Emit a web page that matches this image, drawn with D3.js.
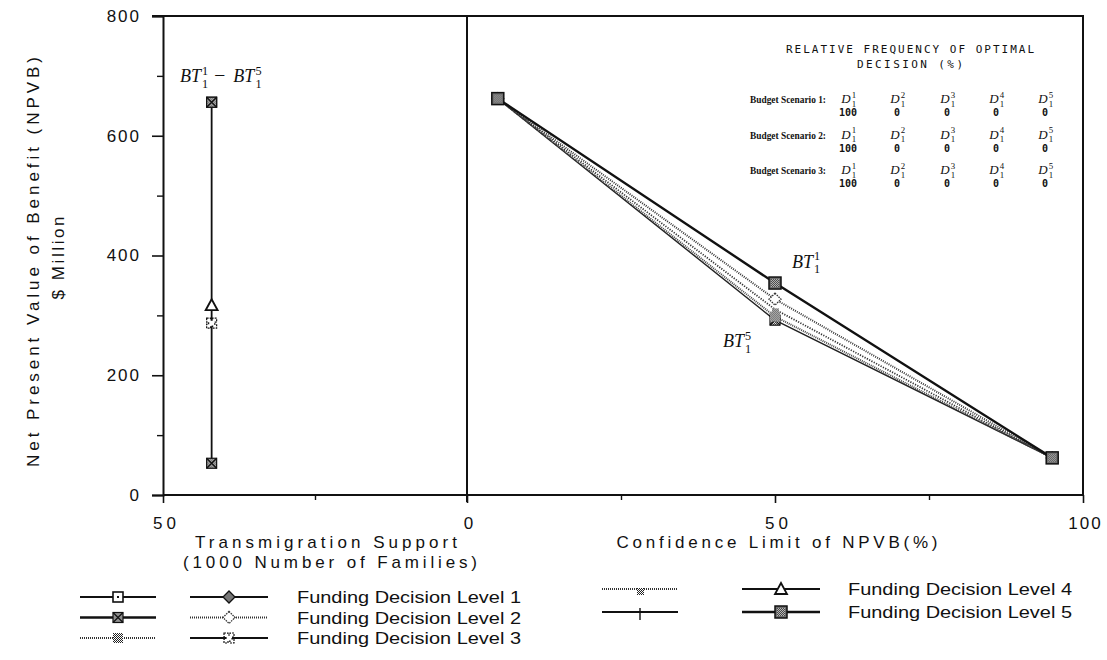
<!DOCTYPE html>
<html>
<head>
<meta charset="utf-8">
<script src="https://cdn.jsdelivr.net/npm/d3@7"></script>
<style>
  body { margin: 0; background: #fff; }
  svg { display: block; }
</style>
</head>
<body>
<svg id="chart" width="1107" height="660"></svg>
<script>
// ---- data ----
var levels = ["Funding Decision Level 1", "Funding Decision Level 2", "Funding Decision Level 3",
              "Funding Decision Level 4", "Funding Decision Level 5"];

// left panel: NPVB against transmigration support (1000 families)
var supportLevel = 42;
var leftNpvb = [656, 53, 287, 317, 656];

// right panel: NPVB against confidence limit (%)
var confidence = [5, 50, 95];
var npvbLevel1 = [662, 292, 62];
var npvbLevel2 = [662, 327, 62];
var npvbLevel3 = [662, 298, 62];
var npvbLevel4 = [662, 310, 62];
var npvbLevel5 = [662, 354, 62];
var rightSeries = [npvbLevel1, npvbLevel2, npvbLevel3, npvbLevel4, npvbLevel5];

var yTicks = [0, 200, 400, 600, 800];
var yMinorTicks = [100, 300, 500, 700];
var leftXTicks = [50, 0];
var rightXTicks = [50, 100];

var tableTitle = ["RELATIVE FREQUENCY OF OPTIMAL", "DECISION (%)"];
var scenarios = ["Budget Scenario 1:", "Budget Scenario 2:", "Budget Scenario 3:"];
var decisionIndex = ["1", "2", "3", "4", "5"];
var freqScenario1 = [100, 0, 0, 0, 0];
var freqScenario2 = [100, 0, 0, 0, 0];
var freqScenario3 = [100, 0, 0, 0, 0];
var freqs = [freqScenario1, freqScenario2, freqScenario3];

// ---- layout ----
var pTop = 16, pBottom = 495, pLeft = 163, pMid = 467, pRight = 1083;
var sans = "'Liberation Sans', Arial, Helvetica, sans-serif";
var serif = "'Liberation Serif', 'Times New Roman', serif";
var mono = "'DejaVu Sans Mono', 'Liberation Mono', monospace";
var ink = "#111";

var svg = d3.select("#chart");
var defs = svg.append("defs");

var chk = defs.append("pattern").attr("id", "checker")
  .attr("width", 2).attr("height", 2).attr("patternUnits", "userSpaceOnUse");
chk.append("rect").attr("width", 2).attr("height", 2).attr("fill", "#fff");
chk.append("rect").attr("width", 1).attr("height", 1).attr("fill", "#222");
chk.append("rect").attr("x", 1).attr("y", 1).attr("width", 1).attr("height", 1).attr("fill", "#222");

var y = d3.scaleLinear().domain([0, 800]).range([pBottom, pTop]);
var xL = d3.scaleLinear().domain([50, 0]).range([pLeft, pMid]);
var xR = d3.scaleLinear().domain([0, 100]).range([pMid, pRight]);

// styles: first legend column (left panel style) and second (right panel style)
var styleA = [
  { dash: null, width: 2, marker: "openSquareDot" },
  { dash: null, width: 2.6, marker: "crossSquare" },
  { dash: "1,1", width: 2.2, marker: "checker" },
  { dash: "1,1", width: 1.8, marker: "smallChecker" },
  { dash: null, width: 2, marker: "plus" }
];
var styleB = [
  { dash: null, width: 2, marker: "filledDiamond" },
  { dash: "1,1", width: 2, marker: "openDiamond" },
  { dash: null, width: 1.8, marker: "starSquare" },
  { dash: null, width: 2.2, marker: "triangle" },
  { dash: null, width: 2.4, marker: "filledSquare" }
];
var leftPanelMarker = ["crossSquare", "crossSquare", "starSquare", "triangle", "crossSquare"];
var rightPanelMarker = ["crossSquare", "openDiamond", "checker", "smallChecker", "filledSquare"];
var rightLineStyle = [
  { dash: null, width: 1.4, color: "#222" },
  { dash: "1,1.2", width: 2, color: "#333" },
  { dash: "1,1", width: 2, color: "#444" },
  { dash: "1.2,1.4", width: 1.8, color: "#333" },
  { dash: null, width: 2.4, color: ink }
];

function marker(g, type, cx, cy) {
  var m = g.append("g").attr("transform", "translate(" + cx + "," + cy + ")");
  if (type === "openSquareDot") {
    m.append("rect").attr("x", -5).attr("y", -5).attr("width", 10).attr("height", 10)
      .attr("fill", "#fff").attr("stroke", ink).attr("stroke-width", 1.6);
    m.append("rect").attr("x", -1).attr("y", -1).attr("width", 2).attr("height", 2).attr("fill", ink);
  } else if (type === "crossSquare") {
    m.append("rect").attr("x", -5).attr("y", -5).attr("width", 10).attr("height", 10)
      .attr("fill", "url(#checker)").attr("stroke", ink).attr("stroke-width", 1.2);
    m.append("path").attr("d", "M-5,-5L5,5M5,-5L-5,5").attr("stroke", ink).attr("stroke-width", 1.2);
  } else if (type === "checker") {
    m.append("rect").attr("x", -5).attr("y", -5).attr("width", 10).attr("height", 10)
      .attr("fill", "url(#checker)");
  } else if (type === "smallChecker") {
    m.append("rect").attr("x", -3).attr("y", -1).attr("width", 7).attr("height", 7)
      .attr("fill", "url(#checker)");
  } else if (type === "plus") {
    m.append("path").attr("d", "M0,-4V8M-3,0H3").attr("stroke", ink).attr("stroke-width", 1.4);
  } else if (type === "filledDiamond") {
    m.append("path").attr("d", "M0,-6L6,0L0,6L-6,0Z").attr("fill", "#777")
      .attr("stroke", ink).attr("stroke-width", 1.3);
  } else if (type === "openDiamond") {
    m.append("path").attr("d", "M0,-6L6,0L0,6L-6,0Z").attr("fill", "#fff")
      .attr("stroke", "#333").attr("stroke-width", 1.3).attr("stroke-dasharray", "1.5,1");
  } else if (type === "starSquare") {
    m.append("path").attr("d", "M-5,-5H-1V-3H1V-5H5V-1H3V1H5V5H1V3H-1V5H-5V1H-3V-1H-5Z")
      .attr("fill", "#fff").attr("stroke", ink).attr("stroke-width", 1.2).attr("stroke-dasharray", "2,1");
  } else if (type === "triangle") {
    m.append("path").attr("d", "M0,-6L6,5H-6Z").attr("fill", "#fff")
      .attr("stroke", ink).attr("stroke-width", 1.8);
  } else if (type === "filledSquare") {
    m.append("rect").attr("x", -6).attr("y", -6).attr("width", 12).attr("height", 12)
      .attr("fill", "#6e6e6e").attr("stroke", ink).attr("stroke-width", 1.5);
    m.append("rect").attr("x", -4).attr("y", -4).attr("width", 8).attr("height", 8)
      .attr("fill", "url(#checker)").attr("opacity", 0.5);
  }
}

// label with stacked subscript and superscript, e.g. BT_1^5
function supSub(g, x, yb, base, sup, sub, size, family, anchor) {
  var t = g.append("text").attr("x", x).attr("y", yb)
    .attr("font-family", family).attr("font-style", "italic")
    .attr("font-size", size).attr("fill", ink).text(base);
  var w = t.node().getComputedTextLength();
  var x0 = anchor === "middle" ? x - w / 2 - size * 0.15 : x;
  t.attr("x", x0);
  var s = size * 0.68;
  g.append("text").attr("x", x0 + w + 1).attr("y", yb - size * 0.42)
    .attr("font-family", family).attr("font-size", s).attr("fill", ink).text(sup);
  g.append("text").attr("x", x0 + w + 1).attr("y", yb + size * 0.3)
    .attr("font-family", family).attr("font-size", s).attr("fill", ink).text(sub);
  return x0 + w + 1 + s * 0.6;
}

// ---- frame ----
var frame = svg.append("g").attr("stroke", ink).attr("stroke-width", 2).attr("fill", "none");
frame.append("path").attr("d", "M152," + pTop + "H" + pRight + "V" + pBottom);
frame.append("line").attr("x1", pMid).attr("x2", pMid).attr("y1", pTop).attr("y2", pBottom + 7);

// y axis
var yAxis = svg.append("g").attr("transform", "translate(" + pLeft + ",0)")
  .call(d3.axisLeft(y).tickValues(yTicks).tickSize(11).tickPadding(11).tickFormat(d3.format("d")));
yAxis.select(".domain").attr("stroke", ink).attr("stroke-width", 2);
yAxis.selectAll(".tick line").attr("stroke", ink).attr("stroke-width", 1.6);
yAxis.selectAll(".tick text").attr("font-family", sans).attr("font-size", 17)
  .attr("letter-spacing", 2).attr("fill", ink);
svg.append("g").attr("transform", "translate(" + pLeft + ",0)")
  .call(d3.axisLeft(y).tickValues(yMinorTicks).tickSize(6).tickFormat(""))
  .call(function (g) { g.select(".domain").remove(); g.selectAll("line").attr("stroke", ink).attr("stroke-width", 1.4); });

// bottom axes
function bottomAxis(scale, ticks, minor, x0, x1) {
  var g = svg.append("g").attr("transform", "translate(0," + pBottom + ")");
  g.append("line").attr("x1", x0).attr("x2", x1).attr("stroke", ink).attr("stroke-width", 2);
  g.append("g").call(d3.axisBottom(scale).tickValues(minor).tickSize(5).tickFormat(""))
    .call(function (a) { a.select(".domain").remove(); a.selectAll("line").attr("stroke", ink).attr("stroke-width", 1.4); });
  var a = g.append("g").call(d3.axisBottom(scale).tickValues(ticks).tickSize(8).tickPadding(14).tickFormat(d3.format("d")));
  a.select(".domain").remove();
  a.selectAll(".tick line").attr("stroke", ink).attr("stroke-width", 1.6);
  a.selectAll(".tick text").attr("font-family", sans).attr("font-size", 17)
    .attr("letter-spacing", 4).attr("dx", 3).attr("fill", ink);
}
bottomAxis(xL, leftXTicks, [25], pLeft, pMid);
bottomAxis(xR, rightXTicks, [25, 75], pMid, pRight);
// keep the last label inside the page
svg.selectAll(".tick text").filter(function (d) { return d === 100; })
  .attr("letter-spacing", 2).attr("dx", 2);

// axis titles
function title(x, yb, txt, len, rot) {
  var t = svg.append("text").attr("text-anchor", "middle").attr("font-family", sans)
    .attr("font-size", 17).attr("fill", ink).attr("textLength", len).attr("lengthAdjust", "spacing")
    .text(txt);
  if (rot) t.attr("transform", "translate(" + x + "," + yb + ") rotate(-90)");
  else t.attr("x", x).attr("y", yb);
}
title(326, 548, "Transmigration  Support", 262);
title(330, 568, "(1000  Number  of  Families)", 294);
title(777, 548, "Confidence  Limit  of  NPVB(%)", 321);
title(39, 262, "Net  Present  Value  of  Benefit  (NPVB)", 410, true);
title(64, 258, "$  Million", 83, true);

// ---- left panel ----
var lp = svg.append("g");
var leftExtent = d3.extent(leftNpvb);
lp.append("path")
  .datum(leftExtent)
  .attr("fill", "none").attr("stroke", ink).attr("stroke-width", 1.8)
  .attr("d", d3.line().x(function () { return xL(supportLevel); }).y(function (d) { return y(d); }));
leftNpvb.forEach(function (v, i) { marker(lp, leftPanelMarker[i], xL(supportLevel), y(v)); });
var ax = supSub(lp, 180, y(leftExtent[1]) - 20, "BT", "1", "1", 18, serif);
lp.append("text").attr("x", ax + 6).attr("y", y(leftExtent[1]) - 22).attr("font-family", serif)
  .attr("font-size", 18).attr("fill", ink).text("\u2013");
supSub(lp, ax + 24, y(leftExtent[1]) - 20, "BT", "5", "1", 18, serif);

// ---- right panel ----
var rp = svg.append("g");
var line = d3.line().x(function (d) { return xR(d[0]); }).y(function (d) { return y(d[1]); });
rightSeries.forEach(function (vals, i) {
  var st = rightLineStyle[i];
  rp.append("path")
    .datum(d3.zip(confidence, vals))
    .attr("fill", "none").attr("stroke", st.color).attr("stroke-width", st.width)
    .attr("stroke-dasharray", st.dash).attr("d", line);
});
rightSeries.forEach(function (vals, i) {
  vals.forEach(function (v, j) { marker(rp, rightPanelMarker[i], xR(confidence[j]), y(v)); });
});
supSub(rp, xR(confidence[1]) + 17, y(npvbLevel5[1]) - 15, "BT", "1", "1", 18, serif);
supSub(rp, xR(confidence[1]) - 52, y(d3.min(rightSeries, function (s) { return s[1]; })) + 27, "BT", "5", "1", 18, serif);

// ---- inset table ----
var tb = svg.append("g");
tableTitle.forEach(function (t, i) {
  tb.append("text").attr("x", 910).attr("y", 53 + i * 15).attr("text-anchor", "middle")
    .attr("font-family", mono).attr("font-size", 11).attr("fill", ink)
    .attr("textLength", i === 0 ? 248 : 106).attr("lengthAdjust", "spacing").text(t);
});
var colX = [848, 897, 947, 996, 1045];
scenarios.forEach(function (s, r) {
  var yb = 103 + r * 35.5;
  tb.append("text").attr("x", 750).attr("y", yb).attr("font-family", serif)
    .attr("font-weight", "bold").attr("font-size", 11).attr("fill", ink)
    .attr("textLength", 76).attr("lengthAdjust", "spacingAndGlyphs").text(s);
  decisionIndex.forEach(function (d, c) {
    supSub(tb, colX[c], yb, "D", d, "1", 13, serif, "middle");
    tb.append("text").attr("x", colX[c]).attr("y", yb + 13).attr("text-anchor", "middle")
      .attr("font-family", mono).attr("font-weight", "bold").attr("font-size", 10)
      .attr("fill", ink).text(freqs[r][c]);
  });
});

// ---- legend ----
var lg = svg.append("g");
function legendSymbol(x0, x1, yc, st) {
  lg.append("line").attr("x1", x0).attr("x2", x1).attr("y1", yc).attr("y2", yc)
    .attr("stroke", st.dash ? "#333" : ink).attr("stroke-width", st.width)
    .attr("stroke-dasharray", st.dash);
  marker(lg, st.marker, (x0 + x1) / 2, yc);
}
var groups = [
  { items: [0, 1, 2], c1: [80, 156], c2: [190, 268], tx: 297, y0: 597, dy: 20.5 },
  { items: [3, 4], c1: [602, 678], c2: [742, 820], tx: 848, y0: 589, dy: 23 }
];
groups.forEach(function (gr) {
  gr.items.forEach(function (li, k) {
    var yc = gr.y0 + k * gr.dy;
    legendSymbol(gr.c1[0], gr.c1[1], yc, styleA[li]);
    legendSymbol(gr.c2[0], gr.c2[1], yc, styleB[li]);
    lg.append("text").attr("x", gr.tx).attr("y", yc + 6).attr("font-family", sans)
      .attr("font-size", 17).attr("fill", ink).attr("textLength", 224)
      .attr("lengthAdjust", "spacingAndGlyphs").text(levels[li]);
  });
});
</script>
</body>
</html>
